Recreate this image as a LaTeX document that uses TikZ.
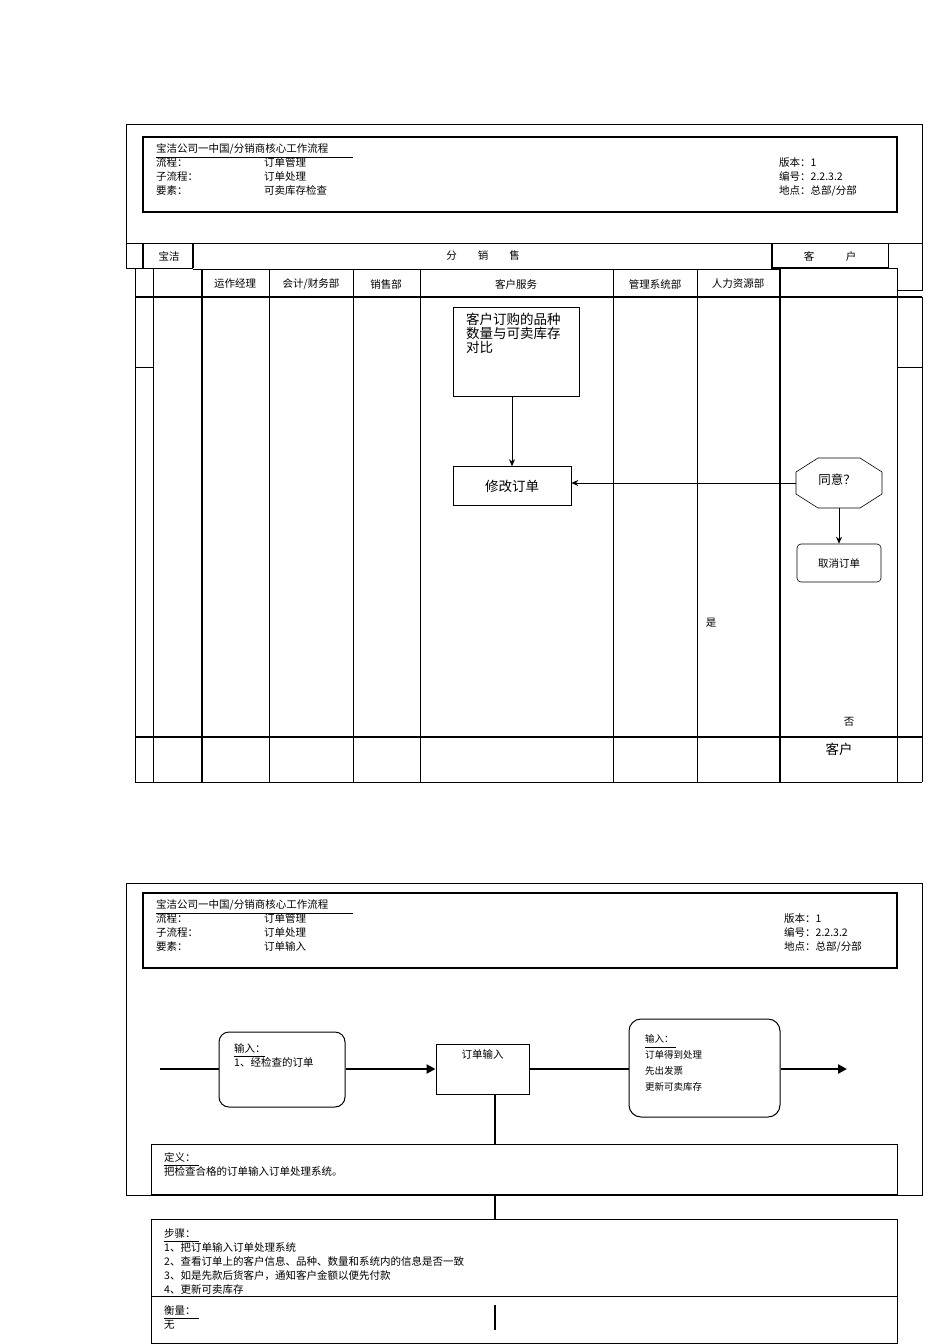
\documentclass[tikz,border=0pt]{standalone}
\usepackage{fontspec}
\setmainfont{Noto Sans CJK SC}
\usetikzlibrary{shapes.geometric,arrows.meta}
\begin{document}
\begin{tikzpicture}[x=1pt,y=-1pt,
  ln/.style={line width=0.6pt},
  dbl/.style={line width=1.4pt},
  sm/.style={font=\fontsize{10.5}{14.2}\selectfont},
  lab/.style={sm,anchor=center,inner sep=0pt},
  tl/.style={sm,anchor=north west,align=left,inner sep=0pt},
  thick3/.style={line width=2.6pt},
  arr/.style={-{Stealth[length=7pt,width=6pt]},line width=0.8pt}]
\useasboundingbox (0,0) rectangle (950,1344);
% ===== upper section
\draw[ln] (126,268) -- (126,124) -- (922,124) -- (922,243);
\draw[dbl] (143,137) rectangle (897,212);
\node[tl] (h1) at (156,143) {宝洁公司一中国/分销商核心工作流程\\流程：\\子流程：\\要素：};
\draw[ln] (156,157) -- (353,157);
\node[tl] (h2) at (264,157.2) {订单管理\\订单处理\\可卖库存检查};
\node[tl] (h3) at (779,157.2) {版本：1\\编号：2.2.3.2\\地点：总部/分部};
% band row
\draw[ln] (126,243) -- (922,243);
\draw[ln] (126,268) -- (193,268);
\draw[dbl] (143,243) -- (143,268) (193,243) -- (193,268);
\draw[dbl] (772,243) -- (772,268) -- (888,268);
\draw[ln] (888,243) -- (888,268) -- (897,268) -- (897,290) -- (922,290) -- (922,243);
\node[lab] (bj) at (169,256) {宝洁};
\node[lab] (fxs) at (483,256) {分\hspace{2em}销\hspace{2em}售};
\node[lab] (kh) at (830,256) {客\hspace{3em}户};
% header row 2 and body
\draw[ln] (193,269) -- (780,269);
\draw[dbl] (135,297) -- (922,297);
\draw[dbl] (135,737) -- (922,737);
\draw[ln] (135,782) -- (922,782);
\foreach \x in {135,153,269,353,420,613,697,897} \draw[ln] (\x,269) -- (\x,782);
\draw[dbl] (202,269) -- (202,782);
\draw[dbl] (780,269) -- (780,782);
\draw[ln] (922,297) -- (922,782);
\draw[ln] (135,367) -- (153,367) (897,367) -- (922,367);
\node[lab] (c1) at (235,284) {运作经理};
\node[lab] (c2) at (311,284) {会计/财务部};
\node[lab] (c3) at (386,284) {销售部};
\node[lab] (c4) at (516,284) {客户服务};
\node[lab] (c5) at (655,284) {管理系统部};
\node[lab] (c6) at (738,284) {人力资源部};
% flow nodes
\node[draw,ln,minimum width=126pt,minimum height=89pt] (b1) at (516,351.5) {};
\node[anchor=north west,align=left,inner sep=0pt,font=\fontsize{13.5}{14}\selectfont] (b1t) at (466,313) {客户订购的品种\\数量与可卖库存\\对比};
\node[draw,ln,minimum width=118pt,minimum height=39pt,font=\fontsize{13.5}{14}\selectfont] (b2) at (512,486) {修改订单};
\draw[ln] (818,458) -- (860,458) -- (882,472) -- (882,494) -- (860,508) -- (818,508) -- (796,494) -- (796,472) -- cycle;
\node[lab,font=\fontsize{12.5}{14}\selectfont] (ok) at (837,480) {同意？};
\coordinate (octL) at (796,483);
\coordinate (octB) at (839,508);
\node[draw,ln,rounded corners=4pt,minimum width=84pt,minimum height=38pt,sm] (cancel) at (839,563) {取消订单};
\draw[arr] (b2.north |- b1.south) -- (b2.north);
\draw[arr] (octL) -- (octL -| b2.east);
\draw[arr] (octB) -- (cancel.north);
\node[lab] (yes) at (711,623) {是};
\node[lab] (no) at (849,722) {否};
\node[lab,font=\fontsize{13.5}{14}\selectfont] (kh2) at (839,749) {客户};
% ===== lower section
\draw[ln] (126,883) rectangle (922,1195);
\draw[dbl] (143,893) rectangle (897,968);
\node[tl] (g1) at (156,899) {宝洁公司一中国/分销商核心工作流程\\流程：\\子流程：\\要素：};
\draw[ln] (156,913) -- (353,913);
\node[tl] (g2) at (264,913.2) {订单管理\\订单处理\\订单输入};
\node[tl] (g3) at (784,913.2) {版本：1\\编号：2.2.3.2\\地点：总部/分部};
\node[draw,line width=1pt,rounded corners=10pt,minimum width=126pt,minimum height=75pt] (in) at (282,1069.5) {};
\node[tl] (int) at (234,1043) {输入：\\1、经检查的订单};
\draw[ln] (234,1056) -- (265,1056);
\node[draw,line width=1pt,minimum width=93pt,minimum height=50pt] (oi) at (482.5,1069) {};
\node[sm,anchor=north,inner sep=0pt] (oit) at (482.5,1049) {订单输入};
\node[draw,line width=1pt,rounded corners=12pt,minimum width=151pt,minimum height=98pt] (out) at (704.5,1068) {};
\node[tl,font=\fontsize{9.5}{16}\selectfont] (outt) at (645,1034) {输入：\\订单得到处理\\先出发票\\更新可卖库存};
\draw[ln] (645,1047) -- (676,1047);
\coordinate (st) at (160,1069);
\coordinate (en) at (847,1069);
\draw[thick3] (st) -- (st -| in.west);
\draw[thick3,-{Triangle[length=9pt,width=9pt]}] (in.east |- st) -- (oi.west |- st);
\draw[thick3] (oi.east |- st) -- (out.west |- st);
\draw[thick3,-{Triangle[length=9pt,width=9pt]}] (out.east |- st) -- (en);
\node[draw,line width=1pt,minimum width=746pt,minimum height=50pt] (def) at (524,1169) {};
\node[tl] (deft) at (164,1152) {定义：\\把检查合格的订单输入订单处理系统。};
\draw[ln] (164,1165) -- (199,1165);
\node[draw,line width=1pt,minimum width=746pt,minimum height=77pt] (steps) at (524,1257.5) {};
\node[tl] (stt) at (164,1228) {步骤：\\1、把订单输入订单处理系统\\2、查看订单上的客户信息、品种、数量和系统内的信息是否一致\\3、如是先款后货客户，通知客户金额以便先付款\\4、更新可卖库存};
\draw[ln] (164,1241) -- (199,1241);
\node[draw,line width=1pt,fill=white,minimum width=746pt,minimum height=47pt] (meas) at (524,1319.5) {};
\node[tl] (mt) at (164,1305) {衡量：\\无};
\draw[ln] (164,1318) -- (199,1318);
\coordinate (v1) at (495,1094);
\draw[thick3] (v1) -- (v1 |- def.north);
\draw[thick3] (v1 |- def.south) -- (v1 |- steps.north);
\coordinate (m1) at (495,1305);
\coordinate (m2) at (495,1330);
\draw[thick3] (m1) -- (m2);
\end{tikzpicture}
\end{document}
